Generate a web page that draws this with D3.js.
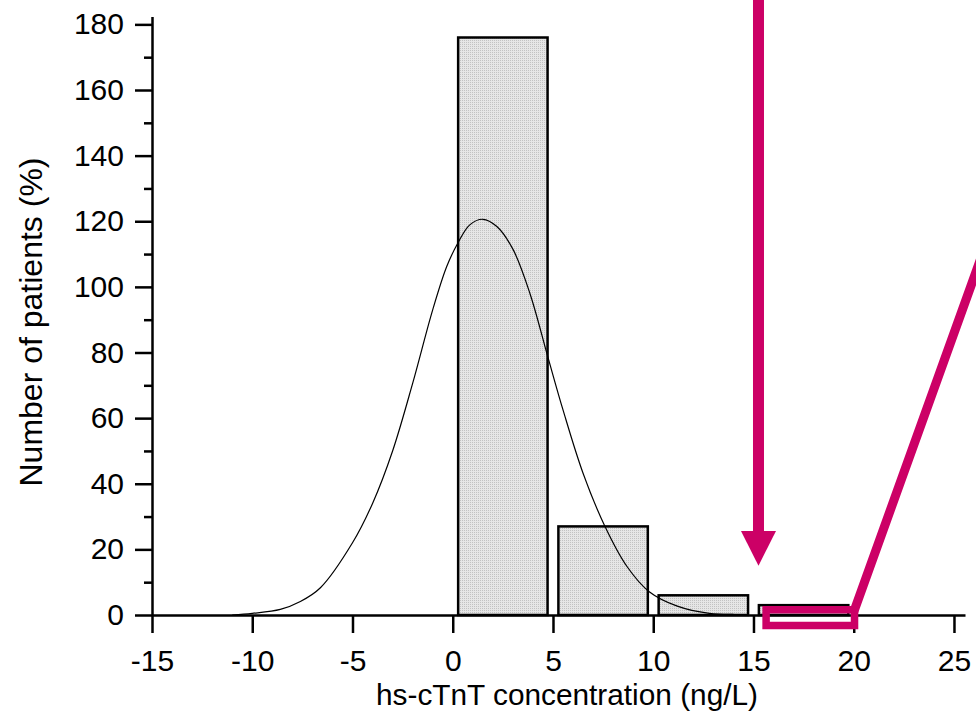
<!DOCTYPE html>
<html>
<head>
<meta charset="utf-8">
<script src="https://cdn.jsdelivr.net/npm/d3@7"></script>
<style>
  body { margin: 0; background: #fff; }
  svg { display: block; font-family: "Liberation Sans", Arial, sans-serif; }
</style>
</head>
<body>
<svg id="chart" width="976" height="722"></svg>
<script>
// histogram bins (ng/L) and counts
const binStart = [0, 5, 10, 15];
const binEnd = [5, 10, 15, 20];
const counts = [176, 27, 6, 3];

// fitted curve, points
const curveX = [-11, -10, -8.6, -7.6, -6.6, -5, -4, -3, -2, -1, -0.3, 0.25, 0.85, 1.5, 2.2, 3, 3.85, 4.75, 5.5, 6.5, 7.6, 8.7, 9.8, 11.2, 12.8, 14];
const curveY = [0, 0.5, 1.7, 4.1, 8.3, 22, 34, 50, 70.6, 93, 106.2, 113.3, 118.9, 120.6, 118.4, 111.5, 98, 78.5, 62.5, 43.2, 26.9, 14.7, 7.1, 2.7, 0.5, 0.2];

const xTicks = [-15, -10, -5, 0, 5, 10, 15, 20, 25];
const yTicks = [0, 20, 40, 60, 80, 100, 120, 140, 160, 180];
const yMinorTicks = [10, 30, 50, 70, 90, 110, 130, 150, 170];

// magenta annotations (data units)
const arrowX = 15.25, arrowTop = 192, arrowHeadBase = 25.6, arrowTip = 15;
const boxX = [15.63, 20.04], boxY = [-3.2, 1.6];
const zoomLineX = [20.04, 27.3], zoomLineY = [1.6, 125];

const width = 976, height = 722;
const svg = d3.select("#chart");
const magenta = "#cc0066";

const x = d3.scaleLinear().domain([-15, 25.55]).range([152, 965]);
const y = d3.scaleLinear().domain([0, 182.4]).range([615, 16.5]);

// dotted grey fill of the bars
const defs = svg.append("defs");
const pat = defs.append("pattern")
    .attr("id", "dots")
    .attr("patternUnits", "userSpaceOnUse")
    .attr("width", 2)
    .attr("height", 2);
pat.append("rect").attr("width", 2).attr("height", 2).attr("fill", "#e6e6e6");
pat.append("rect").attr("width", 1).attr("height", 1).attr("fill", "#c2c2c2");

const bars = binStart.map((s, i) => ({start: s, end: binEnd[i], value: counts[i]}));
const inset = 0.27;

svg.append("g")
    .selectAll("rect")
    .data(bars)
    .join("rect")
    .attr("x", d => x(d.start + inset))
    .attr("y", d => y(d.value))
    .attr("width", d => x(d.end - inset) - x(d.start + inset))
    .attr("height", d => y(0) - y(d.value))
    .attr("fill", "url(#dots)")
    .attr("stroke", "#000")
    .attr("stroke-width", 2.5);

// curve
const pts = curveX.map((v, i) => [v, curveY[i]]);
svg.append("path")
    .datum(pts)
    .attr("fill", "none")
    .attr("stroke", "#000")
    .attr("stroke-width", 1.2)
    .attr("d", d3.line()
        .x(d => x(d[0]))
        .y(d => y(d[1]))
        .curve(d3.curveCatmullRom.alpha(0.5)));

// axes
svg.append("g")
    .attr("transform", `translate(0,${y(0)})`)
    .call(d3.axisBottom(x).tickValues(xTicks).tickSize(18).tickSizeOuter(0).tickPadding(17).tickFormat(d => String(d)));

svg.append("g")
    .attr("transform", `translate(${x(-15)},0)`)
    .call(d3.axisLeft(y).tickValues(yTicks).tickSize(17).tickSizeOuter(0).tickPadding(11).tickFormat(d => String(d)));

svg.append("g")
    .attr("transform", `translate(${x(-15)},0)`)
    .call(d3.axisLeft(y).tickValues(yMinorTicks).tickSize(8).tickFormat(""))
    .call(g => g.select(".domain").remove());

svg.selectAll(".tick line, .domain")
    .attr("stroke", "#000")
    .attr("stroke-width", 2.5);

svg.selectAll(".tick text")
    .attr("fill", "#000")
    .style("font-size", "30px")
    .style("font-family", "'Liberation Sans', Arial, sans-serif");

// labels
svg.append("text")
    .attr("text-anchor", "middle")
    .attr("x", 567)
    .attr("y", 705)
    .style("font-size", "29.8px")
    .text("hs-cTnT concentration (ng/L)");

svg.append("text")
    .attr("text-anchor", "middle")
    .attr("transform", "rotate(-90)")
    .attr("x", -322)
    .attr("y", 42)
    .style("font-size", "32px")
    .text("Number of patients (%)");

// annotations
const ann = svg.append("g");

ann.append("line")
    .attr("x1", x(arrowX)).attr("x2", x(arrowX))
    .attr("y1", y(arrowTop)).attr("y2", y(arrowHeadBase) + 1)
    .attr("stroke", magenta)
    .attr("stroke-width", 11);

ann.append("path")
    .attr("fill", magenta)
    .attr("d", `M${x(arrowX) - 17.5},${y(arrowHeadBase)} L${x(arrowX) + 17.5},${y(arrowHeadBase)} L${x(arrowX)},${y(arrowTip)} Z`);

ann.append("rect")
    .attr("x", x(boxX[0]))
    .attr("y", y(boxY[1]))
    .attr("width", x(boxX[1]) - x(boxX[0]))
    .attr("height", y(boxY[0]) - y(boxY[1]))
    .attr("fill", "none")
    .attr("stroke", magenta)
    .attr("stroke-width", 7.5);

ann.append("line")
    .attr("x1", x(zoomLineX[0])).attr("y1", y(zoomLineY[0]))
    .attr("x2", x(zoomLineX[1])).attr("y2", y(zoomLineY[1]))
    .attr("stroke", magenta)
    .attr("stroke-width", 9)
    .attr("stroke-linecap", "square");
</script>
</body>
</html>
